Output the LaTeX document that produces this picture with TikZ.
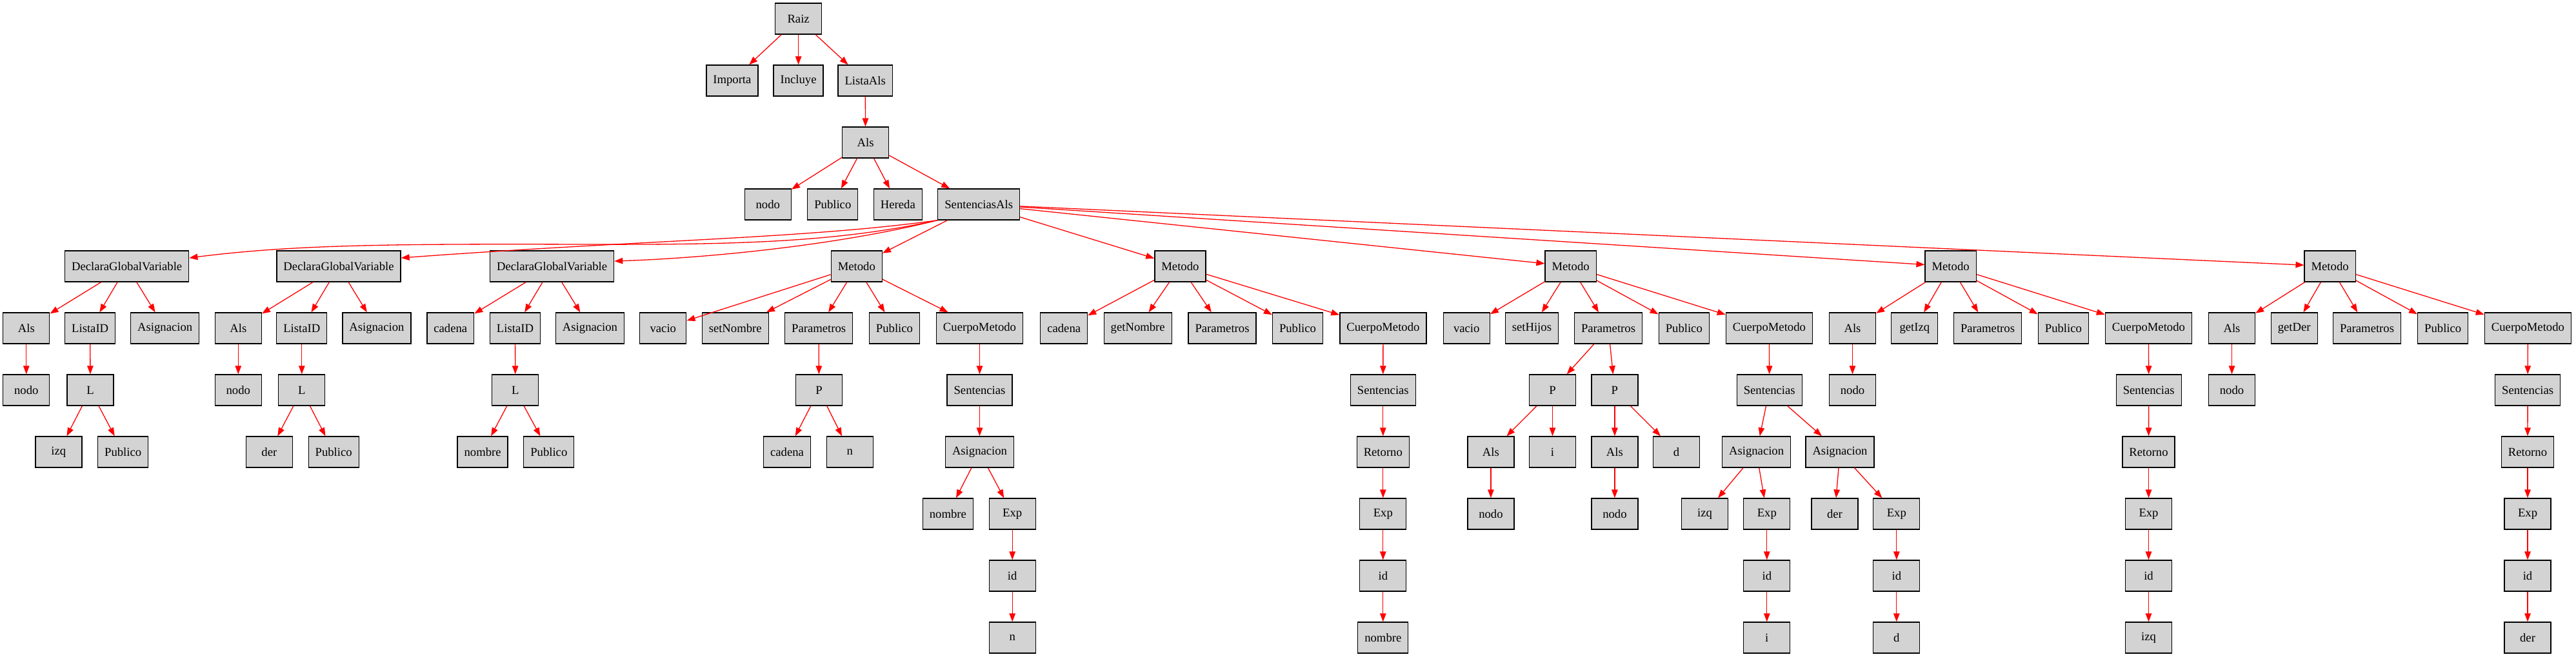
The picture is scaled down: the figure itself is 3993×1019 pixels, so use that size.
\documentclass[tikz,border=0pt]{standalone}
\usepackage{fontspec}
\setmainfont{Liberation Serif}
\usetikzlibrary{arrows.meta}
\definecolor{boxgray}{HTML}{D3D3D3}
\tikzset{
  box/.style={draw=black, line width=1.3pt, fill=boxgray, minimum width=72pt,
    minimum height=48pt, inner xsep=10.5pt, inner ysep=0pt,
    font=\fontsize{18.67pt}{22pt}\selectfont},
  edge/.style={draw=red, line width=1.3pt, -{Triangle[length=13pt,width=9.5pt]}}
}
\begin{document}
\begin{tikzpicture}[x=1pt,y=-1pt]
\useasboundingbox (0,0) rectangle (3993,1019);
% row 1-4
\node[box] (raiz) at (1237.6,29) {Raiz};
\foreach \n/\x/\t in {importa/1134.9/Importa, incluye/1237.6/Incluye, listaals/1341.2/ListaAls}
  \node[box] (\n) at (\x,125) {\t};
\node[box] (als) at (1341.6,221) {Als};
\foreach \n/\x/\t in {nodo0/1190.3/nodo, pub0/1290.8/Publico, hereda/1391.9/Hereda, sa/1517.2/SentenciasAls}
  \node[box] (\n) at (\x,317) {\t};
% row 5
\foreach \n/\x/\t in {dgv1/196.7/DeclaraGlobalVariable, dgv2/525/DeclaraGlobalVariable, dgv3/855.6/DeclaraGlobalVariable,
  m1/1327.8/Metodo, m2/1829.4/Metodo, m3/2434.6/Metodo, m4/3023.6/Metodo, m5/3611.6/Metodo}
  \node[box] (\n) at (\x,413) {\t};
% row 6
\foreach \n/\x/\t in {a1als/40.8/Als, a1lid/139.7/ListaID, a1asig/255.7/Asignacion,
  a2als/369.3/Als, a2lid/467.8/ListaID, a2asig/583.9/Asignacion,
  a3cad/698.3/cadena, a3lid/798.5/ListaID, a3asig/914.5/Asignacion,
  m1vac/1027.8/vacio, m1set/1139.7/setNombre, m1par/1269.1/Parametros, m1pub/1386.5/Publico, m1cm/1518.5/CuerpoMetodo,
  m2cad/1649.2/cadena, m2get/1763.7/getNombre, m2par/1894.5/Parametros, m2pub/2011.5/Publico, m2cm/2143.9/CuerpoMetodo,
  m3vac/2273.2/vacio, m3set/2374.4/setHijos, m3par/2493/Parametros, m3pub/2610.3/Publico, m3cm/2742.4/CuerpoMetodo,
  m4als/2871.5/Als, m4get/2967.8/getIzq, m4par/3081/Parametros, m4pub/3198.4/Publico, m4cm/3330.4/CuerpoMetodo,
  m5als/3459.5/Als, m5get/3556.2/getDer, m5par/3669/Parametros, m5pub/3786.7/Publico, m5cm/3918.4/CuerpoMetodo}
  \node[box] (\n) at (\x,509) {\t};
% row 7
\foreach \n/\x/\t in {a1nodo/40.8/nodo, a1L/140/L, a2nodo/369.3/nodo, a2L/467.8/L, a3L/798.8/L,
  m1P/1269.5/P, m1sen/1518.5/Sentencias, m2sen/2143.8/Sentencias,
  m3P1/2406.5/P, m3P2/2502.9/P, m3sen/2742.7/Sentencias,
  m4nodo/2871.5/nodo, m4sen/3330.7/Sentencias, m5nodo/3459.5/nodo, m5sen/3918.1/Sentencias}
  \node[box] (\n) at (\x,605) {\t};
% row 8
\foreach \n/\x/\t in {a1izq/90.9/izq, a1pub/190.7/Publico, a2der/417.4/der, a2pub/517.2/Publico,
  a3nom/748.1/nombre, a3pub/850.8/Publico,
  m1cad/1220/cadena, m1n/1317.3/n, m1asig/1518.5/Asignacion, m2ret/2143.8/Retorno,
  m3als1/2310.9/Als, m3i/2406.5/i, m3als2/2502.9/Als, m3d/2598.5/d,
  m3asig1/2722.6/Asignacion, m3asig2/2852/Asignacion, m4ret/3330.5/Retorno, m5ret/3918/Retorno}
  \node[box] (\n) at (\x,701) {\t};
% row 9
\foreach \n/\x/\t in {m1nom/1469.4/nombre, m1exp/1569.2/Exp, m2exp/2143.8/Exp,
  m3nodo1/2310.9/nodo, m3nodo2/2502.9/nodo, m3izq/2642.5/izq, m3exp1/2738.8/Exp,
  m3der/2844/der, m3exp2/2939.8/Exp, m4exp/3330.5/Exp, m5exp/3918/Exp}
  \node[box] (\n) at (\x,797) {\t};
% row 10
\foreach \n/\x in {m1id/1569.2, m2id/2143.8, m3id1/2738.8, m3id2/2939.8, m4id/3330.5, m5id/3918}
  \node[box] (\n) at (\x,893) {id};
% row 11
\foreach \n/\x/\t in {m1n2/1569.2/n, m2nom/2143.8/nombre, m3i2/2738.8/i, m3d2/2939.8/d, m4izq/3330.5/izq, m5der/3918/der}
  \node[box] (\n) at (\x,989) {\t};
% straight edges
\foreach \a/\b in {raiz/importa, raiz/incluye, raiz/listaals, listaals/als,
  als/nodo0, als/pub0, als/hereda, als/sa,
  sa/m1, sa/m2, sa/m3, sa/m4, sa/m5,
  dgv1/a1als, dgv1/a1lid, dgv1/a1asig, a1als/a1nodo, a1lid/a1L, a1L/a1izq, a1L/a1pub,
  dgv2/a2als, dgv2/a2lid, dgv2/a2asig, a2als/a2nodo, a2lid/a2L, a2L/a2der, a2L/a2pub,
  dgv3/a3cad, dgv3/a3lid, dgv3/a3asig, a3lid/a3L, a3L/a3nom, a3L/a3pub,
  m1/m1vac, m1/m1set, m1/m1par, m1/m1pub, m1/m1cm, m1par/m1P, m1P/m1cad, m1P/m1n,
  m1cm/m1sen, m1sen/m1asig, m1asig/m1nom, m1asig/m1exp, m1exp/m1id, m1id/m1n2,
  m2/m2cad, m2/m2get, m2/m2par, m2/m2pub, m2/m2cm, m2cm/m2sen, m2sen/m2ret, m2ret/m2exp, m2exp/m2id, m2id/m2nom,
  m3/m3vac, m3/m3set, m3/m3par, m3/m3pub, m3/m3cm, m3par/m3P1, m3par/m3P2,
  m3P1/m3als1, m3P1/m3i, m3P2/m3als2, m3P2/m3d, m3als1/m3nodo1, m3als2/m3nodo2,
  m3cm/m3sen, m3sen/m3asig1, m3sen/m3asig2, m3asig1/m3izq, m3asig1/m3exp1, m3asig2/m3der, m3asig2/m3exp2,
  m3exp1/m3id1, m3id1/m3i2, m3exp2/m3id2, m3id2/m3d2,
  m4/m4als, m4/m4get, m4/m4par, m4/m4pub, m4/m4cm, m4als/m4nodo, m4cm/m4sen, m4sen/m4ret, m4ret/m4exp, m4exp/m4id, m4id/m4izq,
  m5/m5als, m5/m5get, m5/m5par, m5/m5pub, m5/m5cm, m5als/m5nodo, m5cm/m5sen, m5sen/m5ret, m5ret/m5exp, m5exp/m5id, m5id/m5der}
  \draw[edge] (\a) -- (\b);
% curved edges to the DeclaraGlobalVariable nodes
\draw[edge] (sa.south west) .. controls (1300,375) and (1150,380) .. (900,379)
  .. controls (600,378) and (450,380) .. ([yshift=13pt]dgv1.east);
\draw[edge] (sa.south west) .. controls (1250,370) and (1000,372) .. ([yshift=13pt]dgv2.east);
\draw[edge] (sa.south west) .. controls (1300,380) and (1100,400) .. ([yshift=8pt]dgv3.east);
\end{tikzpicture}
\end{document}
